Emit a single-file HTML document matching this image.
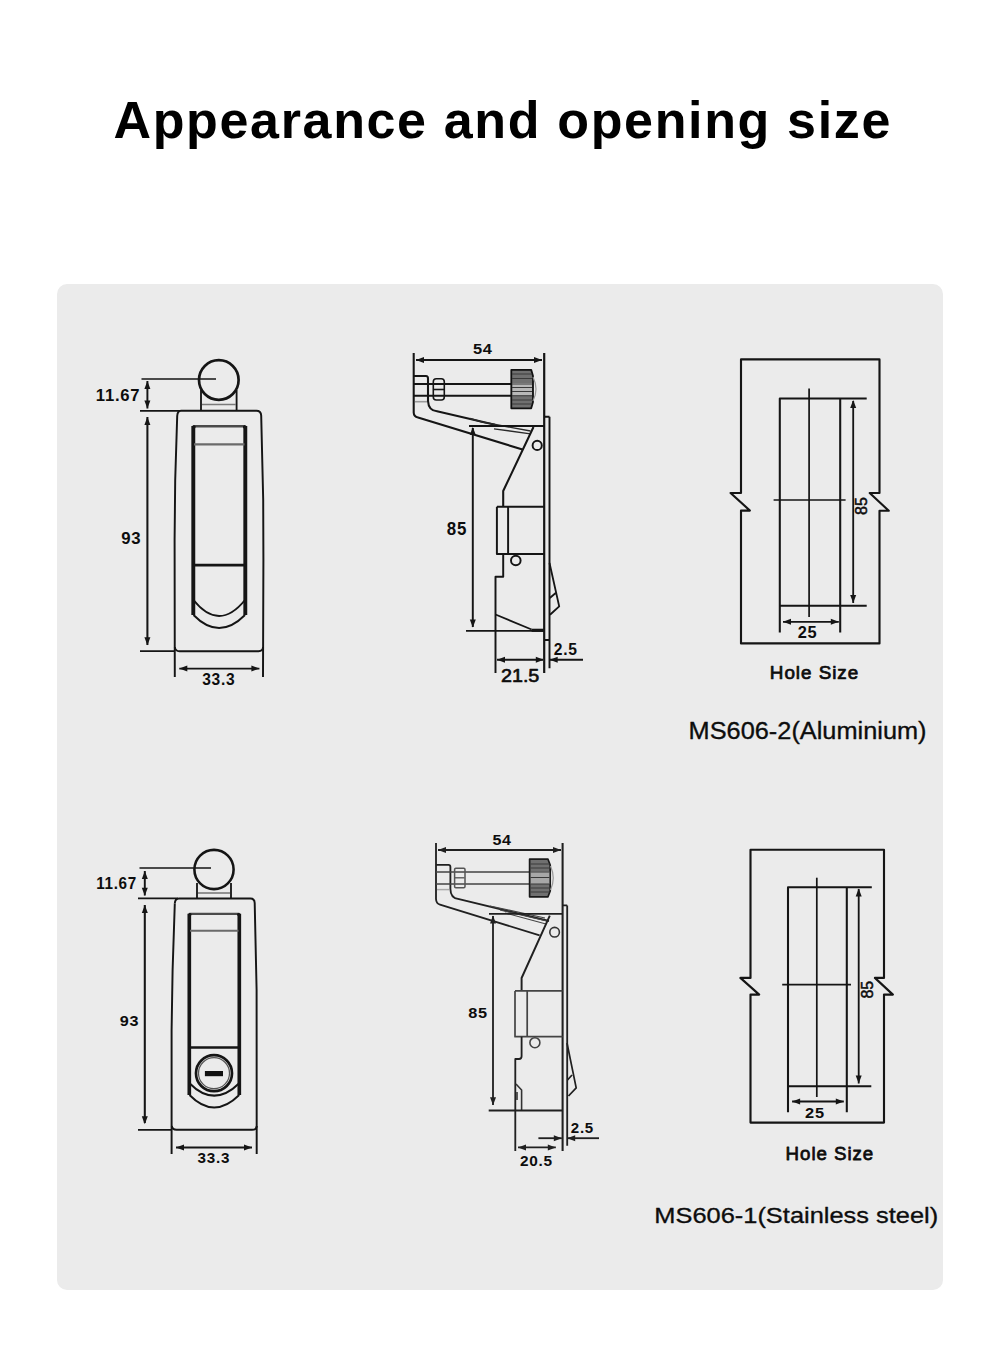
<!DOCTYPE html>
<html><head><meta charset="utf-8">
<style>
html,body{margin:0;padding:0;background:#fff;}
body{width:1000px;height:1352px;position:relative;overflow:hidden;font-family:"Liberation Sans",sans-serif;}
.title{position:absolute;left:113.5px;top:94px;white-space:nowrap;font-weight:bold;font-size:52px;letter-spacing:1.65px;color:#000;line-height:1;}
.panel{position:absolute;left:57px;top:284px;width:886px;height:1006px;background:#ebebeb;border-radius:10px;}
svg{position:absolute;left:0;top:0;}
svg text{font-family:"Liberation Sans",sans-serif;}
</style></head><body>
<div class="title">Appearance and opening size</div>
<div class="panel"></div>
<svg width="1000" height="1352" viewBox="0 0 1000 1352" stroke-linecap="butt" stroke-linejoin="round">
<g id="front">
<path d="M141.5 379 H216" fill="none" stroke="#151515" stroke-width="1.59" />
<circle cx="218.8" cy="380" r="19.8" fill="none" stroke="#151515" stroke-width="2.68"/>
<path d="M201 390 V410.5 M236.6 390 V410.5" fill="none" stroke="#151515" stroke-width="1.83" />
<path d="M202 404.5 H236" fill="none" stroke="#7a7a7a" stroke-width="1.59" />
<path d="M140 410.8 H180" fill="none" stroke="#151515" stroke-width="1.83" />
<path d="M177.2 416 Q177.5 410.8 181 410.8 H256.4 Q261 410.8 261.2 415.6 L263.2 500 L263.4 560 L263 677" fill="none" stroke="#151515" stroke-width="1.95" />
<path d="M177.2 416 L175.2 480 L174.6 540 L174.8 677" fill="none" stroke="#151515" stroke-width="1.95" />
<path d="M174.8 647 Q175.3 651.2 179.5 651.2 H258.5 Q262.8 651.2 263.1 647" fill="none" stroke="#151515" stroke-width="1.95" />
<path d="M140 651.2 H175" fill="none" stroke="#151515" stroke-width="1.83" />
<path d="M147.4 381 V408.5" fill="none" stroke="#151515" stroke-width="1.95" />
<polygon points="147.40,381.00 144.40,389.00 150.40,389.00" fill="#151515"/>
<polygon points="147.40,408.50 144.40,400.50 150.40,400.50" fill="#151515"/>
<path d="M147.4 417 V645" fill="none" stroke="#151515" stroke-width="2.07" />
<polygon points="147.40,417.00 144.40,425.00 150.40,425.00" fill="#151515"/>
<polygon points="147.40,645.20 144.40,637.20 150.40,637.20" fill="#151515"/>
<path d="M179.3 668.6 H259.4" fill="none" stroke="#151515" stroke-width="1.95" />
<polygon points="179.30,668.60 187.30,665.60 187.30,671.60" fill="#151515"/>
<polygon points="259.40,668.60 251.40,665.60 251.40,671.60" fill="#151515"/>
<path d="M193.3 426.2 H245.3" fill="none" stroke="#4a4a4a" stroke-width="2.44" />
<circle cx="193.8" cy="427" r="1.2" fill="#111" stroke="#111" stroke-width="1.22"/>
<circle cx="244.8" cy="427" r="1.2" fill="#111" stroke="#111" stroke-width="1.22"/>
<path d="M193.3 426 V615 M245.3 426 V615" fill="none" stroke="#151515" stroke-width="3.90" />
<path d="M194 444.4 H244.5" fill="none" stroke="#6a6a6a" stroke-width="2.07" />
<path d="M193.3 565.2 H245.3" fill="none" stroke="#151515" stroke-width="2.68" />
<path d="M193.5 600 Q219 632 245 600" fill="none" stroke="#151515" stroke-width="1.95" />
<path d="M193.5 615 Q219 641 245 615" fill="none" stroke="#151515" stroke-width="1.95" />
<text x="0" y="0" font-size="16" font-weight="bold" fill="#0d0d0d" letter-spacing="0.7" transform="matrix(1.0424 0 0 1.0235 95.87 400.50)">11.67</text>
<text x="0" y="0" font-size="16.5" font-weight="bold" fill="#0d0d0d" letter-spacing="0.7" transform="matrix(1.0155 0 0 1.0000 121.17 543.62)">93</text>
<text x="0" y="0" font-size="15" font-weight="bold" fill="#0d0d0d" letter-spacing="0.7" transform="matrix(1.0371 0 0 1.0618 202.21 685.14)">33.3</text>
<path d="M139.5 868 H211" fill="none" stroke="#151515" stroke-width="1.59" />
<circle cx="214" cy="869.5" r="19.6" fill="none" stroke="#151515" stroke-width="2.56"/>
<path d="M197 883 V898.4 M231 883 V898.4" fill="none" stroke="#151515" stroke-width="1.83" />
<path d="M198 893 H230" fill="none" stroke="#7a7a7a" stroke-width="1.59" />
<path d="M138 898.4 H178" fill="none" stroke="#151515" stroke-width="1.83" />
<path d="M174.8 903.5 Q175 898.4 179 898.4 H250.5 Q254.5 898.4 254.7 903 L256.6 990 L256.7 1154" fill="none" stroke="#151515" stroke-width="1.95" />
<path d="M174.8 903.5 L172.6 970 L171.6 1030 L171.6 1154" fill="none" stroke="#151515" stroke-width="1.95" />
<path d="M171.8 1126 Q172.3 1129.8 176.5 1129.8 H252 Q256.5 1129.8 256.8 1126" fill="none" stroke="#151515" stroke-width="1.95" />
<path d="M138 1129.8 H172" fill="none" stroke="#151515" stroke-width="1.83" />
<path d="M144.8 871 V895.5" fill="none" stroke="#151515" stroke-width="1.95" />
<polygon points="144.80,871.00 141.80,879.00 147.80,879.00" fill="#151515"/>
<polygon points="144.80,895.80 141.80,887.80 147.80,887.80" fill="#151515"/>
<path d="M144.8 905 V1123" fill="none" stroke="#151515" stroke-width="2.07" />
<polygon points="144.80,905.00 141.80,913.00 147.80,913.00" fill="#151515"/>
<polygon points="144.80,1124.20 141.80,1116.20 147.80,1116.20" fill="#151515"/>
<path d="M176 1147.4 H252" fill="none" stroke="#151515" stroke-width="1.95" />
<polygon points="176.00,1147.40 184.00,1144.40 184.00,1150.40" fill="#151515"/>
<polygon points="252.00,1147.40 244.00,1144.40 244.00,1150.40" fill="#151515"/>
<path d="M189.3 913.9 H239.3" fill="none" stroke="#4a4a4a" stroke-width="2.44" />
<circle cx="189.8" cy="914.6" r="1.1" fill="#111" stroke="#111" stroke-width="1.22"/>
<circle cx="238.8" cy="914.6" r="1.1" fill="#111" stroke="#111" stroke-width="1.22"/>
<path d="M189.3 913.7 V1095 M239.3 913.7 V1095" fill="none" stroke="#151515" stroke-width="3.66" />
<path d="M190 930.8 H238.5" fill="none" stroke="#6a6a6a" stroke-width="1.95" />
<path d="M189.3 1047.5 H239.3" fill="none" stroke="#151515" stroke-width="2.68" />
<path d="M189.5 1083.2 Q214 1108 239.2 1083.2" fill="none" stroke="#151515" stroke-width="1.95" />
<path d="M189.5 1095 Q214 1120 239.2 1095" fill="none" stroke="#151515" stroke-width="1.95" />
<circle cx="214" cy="1073.2" r="18.0" fill="none" stroke="#151515" stroke-width="2.68"/>
<circle cx="214" cy="1073.2" r="15.5" fill="none" stroke="#555" stroke-width="1.22"/>
<rect x="204.9" y="1071" width="18.1" height="5.2" fill="#111"/>
<text x="0" y="0" font-size="15.5" font-weight="bold" fill="#0d0d0d" letter-spacing="0.7" transform="matrix(0.9843 0 0 1.0596 96.20 889.00)">11.67</text>
<text x="0" y="0" font-size="16" font-weight="bold" fill="#0d0d0d" letter-spacing="0.7" transform="matrix(1.0139 0 0 0.9679 119.87 1026.00)">93</text>
<text x="0" y="0" font-size="14.5" font-weight="bold" fill="#0d0d0d" letter-spacing="0.7" transform="matrix(1.0498 0 0 0.9641 197.55 1163.03)">33.3</text>
</g>
<g id="side">
<path d="M413.7 353 V412.5 Q413.8 416.6 418 417.4 L522.5 449.5" fill="none" stroke="#151515" stroke-width="2.07" />
<path d="M544.2 353 V673" fill="none" stroke="#151515" stroke-width="2.20" />
<path d="M549.5 416.8 V668.2 M544.2 416.8 H549.5 M544.2 640 H549.5" fill="none" stroke="#151515" stroke-width="1.95" />
<path d="M416 360 H542" fill="none" stroke="#151515" stroke-width="1.95" />
<polygon points="416.00,360.00 424.00,357.00 424.00,363.00" fill="#151515"/>
<polygon points="542.00,360.00 534.00,357.00 534.00,363.00" fill="#151515"/>
<path d="M413.7 376 H426 Q428 376 428 378.5 V401 Q428.5 410.5 437 411.3 L495 424.7" fill="none" stroke="#151515" stroke-width="2.07" />
<path d="M413.7 384 H511.5 M413.7 395.7 H511.5" fill="none" stroke="#151515" stroke-width="1.95" />
<path d="M415 401.7 H427" fill="none" stroke="#999" stroke-width="1.59" />
<rect x="433.3" y="378.8" width="11" height="21.2" rx="3" fill="none" stroke="#151515" stroke-width="1.6"/>
<path d="M433.5 389.5 H444" fill="none" stroke="#151515" stroke-width="1.59" />
<path d="M511.3 369.8 H531.2 L533 376 V402 L531.2 408.3 H511.3 Z" fill="#707070" stroke="#111" stroke-width="1.8"/>
<rect x="512.5" y="383" width="19.5" height="12.5" fill="#b8b8b8"/>
<path d="M512 374 H532 M512 378.5 H532 M512 384 H532 M512 387.5 H532 M512 391.5 H532 M512 395.7 H532 M512 400 H532 M512 404 H532" fill="none" stroke="#3a3a3a" stroke-width="1.10" />
<path d="M533 377 Q539 389 533 401" fill="none" stroke="#999" stroke-width="1.22" />
<path d="M470 418.5 L482 422 L530.5 431 M494 428.9 L530.5 433.8" fill="none" stroke="#2a2a2a" stroke-width="1.34" />
<path d="M469 426 H544.2" fill="none" stroke="#151515" stroke-width="1.83" />
<path d="M472.8 428 V627" fill="none" stroke="#151515" stroke-width="1.95" />
<polygon points="472.80,427.00 469.80,435.00 475.80,435.00" fill="#151515"/>
<polygon points="472.80,627.40 469.80,619.40 475.80,619.40" fill="#151515"/>
<path d="M533.5 427 L503.2 491 V506.7" fill="none" stroke="#151515" stroke-width="2.07" />
<circle cx="537.2" cy="445.4" r="4.6" fill="none" stroke="#151515" stroke-width="1.95"/>
<path d="M496.9 506.7 H544.2 M496.9 506.7 V554 H544.2 M508.1 506.7 V554" fill="none" stroke="#151515" stroke-width="1.95" />
<path d="M503.2 554 V576.7 H495.5 V673" fill="none" stroke="#151515" stroke-width="1.95" />
<circle cx="515.8" cy="560.5" r="4.8" fill="none" stroke="#151515" stroke-width="1.95"/>
<path d="M495.5 614.5 L531.6 629.5" fill="none" stroke="#151515" stroke-width="1.83" />
<path d="M531.6 630.3 H544" fill="none" stroke="#151515" stroke-width="3.17" />
<path d="M466 630.8 H544" fill="none" stroke="#151515" stroke-width="1.83" />
<path d="M549.5 563 L559.2 606.4 L550 614.8 M549.8 598 L555.7 593" fill="none" stroke="#151515" stroke-width="1.83" />
<path d="M497 659.8 H543" fill="none" stroke="#151515" stroke-width="1.95" />
<polygon points="497.00,659.80 505.00,656.80 505.00,662.80" fill="#151515"/>
<polygon points="543.80,659.80 535.80,656.80 535.80,662.80" fill="#151515"/>
<path d="M583 659.8 H550" fill="none" stroke="#151515" stroke-width="1.95" />
<polygon points="549.70,659.80 557.70,656.80 557.70,662.80" fill="#151515"/>
<text x="0" y="0" font-size="15" font-weight="bold" fill="#0d0d0d" letter-spacing="0.7" transform="matrix(1.0971 0 0 0.9640 472.88 354.00)">54</text>
<text x="0" y="0" font-size="16" font-weight="bold" fill="#0d0d0d" letter-spacing="0.7" transform="matrix(1.0570 0 0 1.1290 446.76 535.41)">85</text>
<text x="0" y="0" font-size="17.5" font-weight="normal" fill="#0d0d0d" stroke="#0d0d0d" stroke-width="0.6" transform="matrix(1.1295 0 0 1.0321 500.91 681.95)">21.5</text>
<text x="0" y="0" font-size="15" font-weight="bold" fill="#0d0d0d" letter-spacing="0.7" transform="matrix(1.0421 0 0 1.0618 553.86 655.00)">2.5</text>
<path d="M436 843 V899 Q436.2 903.6 440 904.6 L539.6 935.4" fill="none" stroke="#202020" stroke-width="1.83" />
<path d="M562.6 843 V1151" fill="none" stroke="#202020" stroke-width="2.07" />
<path d="M567.2 905.4 V1145.8 M562.6 905.4 H567.2" fill="none" stroke="#202020" stroke-width="1.83" />
<path d="M438 850 H561" fill="none" stroke="#202020" stroke-width="1.83" />
<polygon points="438.00,850.00 446.00,847.00 446.00,853.00" fill="#202020"/>
<polygon points="561.00,850.00 553.00,847.00 553.00,853.00" fill="#202020"/>
<path d="M436 864.8 H448.5 Q450.4 864.8 450.4 867 V889 Q450.6 898 458 898.9 L549 921" fill="none" stroke="#202020" stroke-width="1.83" />
<path d="M436 872 H529.6 M436 884 H529.6" fill="none" stroke="#444" stroke-width="1.59" />
<path d="M437 889.6 H449" fill="none" stroke="#aaa" stroke-width="1.46" />
<rect x="454.6" y="868.2" width="10.4" height="19.6" rx="1.2" fill="none" stroke="#555" stroke-width="1.5"/>
<path d="M455 877.8 H464.5" fill="none" stroke="#555" stroke-width="1.34" />
<path d="M529.6 859.2 H548 L550.2 865 V891 L548 896.8 H529.6 Z" fill="#707070" stroke="#1a1a1a" stroke-width="1.7"/>
<rect x="530.8" y="871.5" width="18.5" height="12.5" fill="#a8a8a8"/>
<path d="M530.5 864 H549.5 M530.5 868 H549.5 M530.5 872 H549.5 M530.5 877.5 H549.5 M530.5 884 H549.5 M530.5 888 H549.5 M530.5 892 H549.5" fill="none" stroke="#3a3a3a" stroke-width="1.10" />
<path d="M550.5 866 Q556 878 550.5 890" fill="none" stroke="#999" stroke-width="1.22" />
<path d="M500 910 L549 921.5 M490 906 L545 918 M505 913 L546 924" fill="none" stroke="#444" stroke-width="1.10" />
<path d="M489 913.8 H562.6" fill="none" stroke="#202020" stroke-width="1.83" />
<path d="M493 916 V1105" fill="none" stroke="#202020" stroke-width="1.83" />
<polygon points="493.00,915.60 490.00,923.60 496.00,923.60" fill="#202020"/>
<polygon points="493.00,1105.30 490.00,1097.30 496.00,1097.30" fill="#202020"/>
<path d="M549.8 915.6 L521.6 978 V990.9" fill="none" stroke="#202020" stroke-width="1.95" />
<circle cx="554.6" cy="932.2" r="4.8" fill="none" stroke="#333" stroke-width="1.59"/>
<path d="M515 990.9 H562.6 M515 990.9 V1036.7 H562.6 M527.2 990.9 V1036.7" fill="none" stroke="#444" stroke-width="1.71" />
<path d="M521.6 1036.7 V1056.3 Q521.6 1059 519 1059 H515.3 V1151" fill="none" stroke="#202020" stroke-width="1.83" />
<circle cx="534.9" cy="1042.7" r="5.0" fill="none" stroke="#444" stroke-width="1.59"/>
<path d="M516 1084 L521.6 1090 V1110 M517 1092 V1100" fill="none" stroke="#333" stroke-width="1.59" />
<path d="M567 1043 L576.2 1087.8 L568.5 1096 M567.5 1080 L572 1075" fill="none" stroke="#202020" stroke-width="1.71" />
<path d="M488.7 1110.5 H562" fill="none" stroke="#202020" stroke-width="1.95" />
<path d="M518 1147.4 H555.8" fill="none" stroke="#202020" stroke-width="1.83" />
<polygon points="518.00,1147.40 526.00,1144.40 526.00,1150.40" fill="#202020"/>
<polygon points="555.80,1147.40 547.80,1144.40 547.80,1150.40" fill="#202020"/>
<path d="M538.4 1138.2 H561.8" fill="none" stroke="#202020" stroke-width="1.83" />
<polygon points="561.80,1138.20 553.80,1135.20 553.80,1141.20" fill="#202020"/>
<path d="M599 1138.2 H567.2" fill="none" stroke="#202020" stroke-width="1.83" />
<polygon points="567.20,1138.20 575.20,1135.20 575.20,1141.20" fill="#202020"/>
<text x="0" y="0" font-size="14.5" font-weight="bold" fill="#0d0d0d" letter-spacing="0.7" transform="matrix(1.1090 0 0 1.0469 492.38 844.61)">54</text>
<text x="0" y="0" font-size="15.5" font-weight="bold" fill="#0d0d0d" letter-spacing="0.7" transform="matrix(1.0539 0 0 1.0009 468.17 1018.45)">85</text>
<text x="0" y="0" font-size="15" font-weight="bold" fill="#0d0d0d" letter-spacing="0.7" transform="matrix(1.0243 0 0 0.9422 519.90 1165.56)">20.5</text>
<text x="0" y="0" font-size="14.5" font-weight="bold" fill="#0d0d0d" letter-spacing="0.7" transform="matrix(1.0403 0 0 0.9834 570.80 1132.86)">2.5</text>
</g>
<g id="hole">
<path d="M741 359.4 H879.5 V493 H869.7 L888.8 510.8 H879.5 V643.4 H741 V510.6 H749.9 L730.6 493 H741 Z" fill="none" stroke="#151515" stroke-width="2.13" />
<path d="M779.8 632.6 V398.5 H866.7 M840.2 398.5 V632.6 M779.8 605.7 H866.7" fill="none" stroke="#151515" stroke-width="2.07" />
<path d="M809.1 388.6 V616.9" fill="none" stroke="#151515" stroke-width="1.71" />
<path d="M773.6 500 H845.6" fill="none" stroke="#151515" stroke-width="1.71" />
<path d="M853.2 401 V603" fill="none" stroke="#151515" stroke-width="1.83" />
<polygon points="853.20,400.00 850.20,408.00 856.20,408.00" fill="#151515"/>
<polygon points="853.20,603.00 850.20,595.00 856.20,595.00" fill="#151515"/>
<path d="M783 621.8 H838.8" fill="none" stroke="#151515" stroke-width="1.83" />
<polygon points="783.00,621.80 791.00,618.80 791.00,624.80" fill="#151515"/>
<polygon points="838.80,621.80 830.80,618.80 830.80,624.80" fill="#151515"/>
<text x="0" y="0" font-size="15" font-weight="bold" fill="#0d0d0d" letter-spacing="0.7" transform="matrix(1.0929 0 0 1.0618 797.66 638.00)">25</text>
<text x="0" y="0" font-size="16" font-weight="normal" fill="#0d0d0d" stroke="#0d0d0d" stroke-width="0.5" transform="translate(867.3 515) rotate(-90)">85</text>
<text x="0" y="0" font-size="17.5" font-weight="normal" fill="#0d0d0d" letter-spacing="0.9" stroke="#0d0d0d" stroke-width="0.7" transform="matrix(1.0771 0 0 1.0687 769.85 679.09)">Hole Size</text>
<text x="0" y="0" font-size="24.5" font-weight="normal" fill="#0d0d0d" stroke="#0d0d0d" stroke-width="0.35" transform="matrix(1.0346 0 0 0.9543 688.57 738.61)">MS606-2(Aluminium)</text>
<path d="M750.5 849.8 H884 V977.9 H874.9 L892.9 994.6 H884 V1122.6 H750.5 V994.6 H759.2 L740.4 977.9 H750.5 Z" fill="none" stroke="#151515" stroke-width="2.13" />
<path d="M788 1112.3 V887.2 H871.8 M846.8 887.2 V1112.3 M788 1086.2 H871.3" fill="none" stroke="#151515" stroke-width="2.07" />
<path d="M816.8 877.7 V1097" fill="none" stroke="#151515" stroke-width="1.71" />
<path d="M782.2 984.6 H851" fill="none" stroke="#151515" stroke-width="1.71" />
<path d="M858.7 889 V1083.5" fill="none" stroke="#151515" stroke-width="1.83" />
<polygon points="858.70,888.50 855.70,896.50 861.70,896.50" fill="#151515"/>
<polygon points="858.70,1083.50 855.70,1075.50 861.70,1075.50" fill="#151515"/>
<path d="M792.1 1101.5 H843.8" fill="none" stroke="#151515" stroke-width="1.83" />
<polygon points="792.10,1101.50 800.10,1098.50 800.10,1104.50" fill="#151515"/>
<polygon points="843.80,1101.50 835.80,1098.50 835.80,1104.50" fill="#151515"/>
<text x="0" y="0" font-size="15" font-weight="bold" fill="#0d0d0d" letter-spacing="0.7" transform="matrix(1.0943 0 0 1.0009 805.01 1117.61)">25</text>
<text x="0" y="0" font-size="16" font-weight="normal" fill="#0d0d0d" stroke="#0d0d0d" stroke-width="0.5" transform="translate(872.6 998.6) rotate(-90)">85</text>
<text x="0" y="0" font-size="17.5" font-weight="normal" fill="#0d0d0d" letter-spacing="0.9" stroke="#0d0d0d" stroke-width="0.7" transform="matrix(1.0685 0 0 1.0865 785.58 1159.50)">Hole Size</text>
<text x="0" y="0" font-size="24.5" font-weight="normal" fill="#0d0d0d" stroke="#0d0d0d" stroke-width="0.35" transform="matrix(1.0372 0 0 0.9228 654.32 1222.90)">MS606-1(Stainless steel)</text>
</g>
</svg>
</body></html>
